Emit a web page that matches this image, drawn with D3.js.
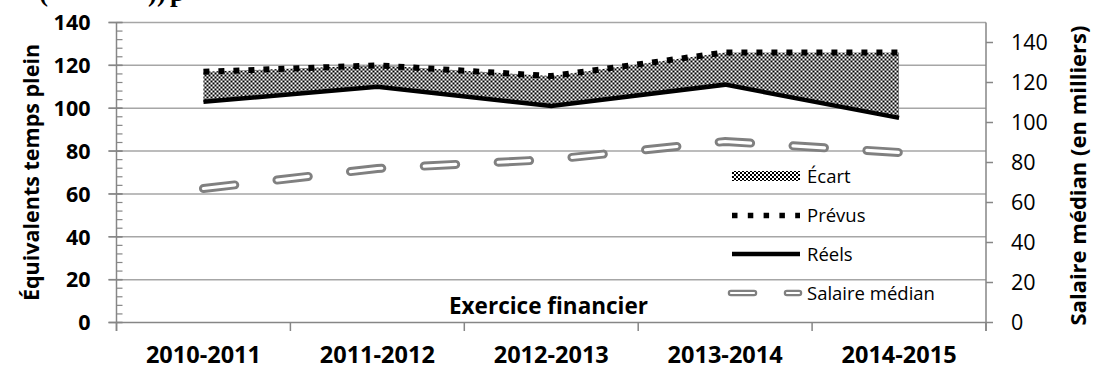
<!DOCTYPE html>
<html lang="fr">
<head>
    <meta charset="utf-8" />
    <title>ETP et salaire médian</title>
    <style>
        body { margin: 0; background: #fff; }
        svg { display: block; font-family: "Open Sans", "Liberation Sans", sans-serif; }
    </style>
</head>
<body>
<script src="https://d3js.org/d3.v7.min.js"></script>
<div id="chart"></div>
<script>
    // data
    const categories = ["2010-2011", "2011-2012", "2012-2013", "2013-2014", "2014-2015"];
    const prevus = [117, 120, 115, 126, 126];
    const reels = [103, 110, 101, 111, 95.5];
    const salaire = [67, 77, 81.5, 90.5, 85];   // right axis, in thousands
    const leftTicks = [0, 20, 40, 60, 80, 100, 120, 140];
    const rightTicks = [0, 20, 40, 60, 80, 100, 120, 140];

    const W = 1094, H = 368;
    const margin = {top: 22.5, right: 108, bottom: 45.5, left: 116.5};
    const width = W - margin.left - margin.right,
        height = H - margin.top - margin.bottom;

    const svg = d3.select("#chart").append("svg")
        .attr("width", W)
        .attr("height", H);

    // checkered fill for the gap
    const defs = svg.append("defs");
    const pat = defs.append("pattern")
        .attr("id", "checker")
        .attr("width", 4).attr("height", 4)
        .attr("patternUnits", "userSpaceOnUse");
    pat.append("rect").attr("width", 4).attr("height", 4).attr("fill", "#fff");
    pat.append("rect").attr("width", 2).attr("height", 2).attr("fill", "#000");
    pat.append("rect").attr("x", 2).attr("y", 2).attr("width", 2).attr("height", 2).attr("fill", "#000");

    // leftover of the document heading, cut off at the top like in the source
    const head = svg.append("g")
        .style("font-family", "'Liberation Serif', serif")
        .style("font-weight", "bold")
        .style("font-size", "27px");
    head.append("text").attr("x", 39).attr("y", 1).text("(");
    head.append("text").attr("x", 148).attr("y", 1).text("))");
    head.append("text").attr("x", 170).attr("y", 1).text("p");

    const g = svg.append("g")
        .attr("transform", `translate(${margin.left},${margin.top})`);

    const x = d3.scaleBand().domain(categories).range([0, width]);
    const y = d3.scaleLinear().domain([0, 140]).range([height, 0]);
    const y2 = d3.scaleLinear().domain([0, 150]).range([height, 0]);
    const cx = d => x(d) + x.bandwidth() / 2;

    const axisColor = "#868686", gridColor = "#a6a6a6";

    // gridlines
    g.selectAll(".grid")
        .data(leftTicks.filter(d => d > 0))
        .join("line")
        .attr("x1", -8).attr("x2", width)
        .attr("y1", d => y(d)).attr("y2", d => y(d))
        .attr("stroke", gridColor)
        .attr("stroke-width", 1.5);

    // left axis: line, major and minor ticks
    g.append("line")
        .attr("x1", 0).attr("x2", 0)
        .attr("y1", 0).attr("y2", height + 8.5)
        .attr("stroke", axisColor).attr("stroke-width", 1.5);
    g.selectAll(".minor")
        .data(d3.range(0, 141, 4))
        .join("line")
        .attr("x1", 0).attr("x2", 6)
        .attr("y1", d => y(d)).attr("y2", d => y(d))
        .attr("stroke", axisColor).attr("stroke-width", 1.2);
    g.selectAll(".major")
        .data(leftTicks)
        .join("line")
        .attr("x1", -8).attr("x2", 6)
        .attr("y1", d => y(d)).attr("y2", d => y(d))
        .attr("stroke", axisColor).attr("stroke-width", 1.5);
    g.selectAll(".ltick")
        .data(leftTicks)
        .join("text")
        .attr("x", -26)
        .attr("y", d => y(d))
        .attr("dy", "0.36em")
        .attr("text-anchor", "end")
        .style("font-weight", "bold")
        .style("font-size", "21.5px")
        .text(d => d);

    // bottom axis
    g.append("line")
        .attr("x1", -8).attr("x2", width)
        .attr("y1", height).attr("y2", height)
        .attr("stroke", axisColor).attr("stroke-width", 1.5);
    g.selectAll(".xtick")
        .data(categories.concat([null]))
        .join("line")
        .attr("x1", d => d === null ? width : x(d))
        .attr("x2", d => d === null ? width : x(d))
        .attr("y1", height).attr("y2", height + 8.5)
        .attr("stroke", axisColor).attr("stroke-width", 1.5);
    g.selectAll(".xlab")
        .data(categories)
        .join("text")
        .attr("x", d => cx(d))
        .attr("y", height + 40)
        .attr("text-anchor", "middle")
        .style("font-weight", "bold")
        .style("font-size", "23.5px")
        .text(d => d);

    // right axis
    g.append("line")
        .attr("x1", width).attr("x2", width)
        .attr("y1", 0).attr("y2", height + 8.5)
        .attr("stroke", axisColor).attr("stroke-width", 1.5);
    g.selectAll(".rmajor")
        .data(rightTicks)
        .join("line")
        .attr("x1", width).attr("x2", width + 7)
        .attr("y1", d => y2(d)).attr("y2", d => y2(d))
        .attr("stroke", axisColor).attr("stroke-width", 1.5);
    g.selectAll(".rtick")
        .data(rightTicks)
        .join("text")
        .attr("x", width + 25)
        .attr("y", d => y2(d))
        .attr("dy", "0.36em")
        .style("font-size", "21.5px")
        .text(d => d);

    // axis titles
    svg.append("text")
        .attr("transform", `translate(39,${margin.top + height / 2}) rotate(-90)`)
        .attr("text-anchor", "middle")
        .style("font-weight", "bold")
        .style("font-size", "21.5px")
        .text("Équivalents temps plein");
    svg.append("text")
        .attr("transform", `translate(1086,${margin.top + height / 2 + 3}) rotate(-90)`)
        .attr("text-anchor", "middle")
        .style("font-weight", "bold")
        .style("font-size", "22px")
        .text("Salaire médian (en milliers)");
    g.append("text")
        .attr("x", 432)
        .attr("y", height - 9)
        .attr("text-anchor", "middle")
        .style("font-weight", "bold")
        .style("font-size", "22.5px")
        .text("Exercice financier");

    // gap area between planned and actual
    const rows = categories.map((c, i) => ({c, p: prevus[i], r: reels[i], s: salaire[i]}));
    g.append("path")
        .datum(rows)
        .attr("d", d3.area().x(d => cx(d.c)).y0(d => y(d.r)).y1(d => y(d.p)))
        .attr("fill", "url(#checker)");

    // actual
    g.append("path")
        .datum(rows)
        .attr("d", d3.line().x(d => cx(d.c)).y(d => y(d.r)))
        .attr("fill", "none")
        .attr("stroke", "#000")
        .attr("stroke-width", 4.5);

    // planned (square dots)
    g.append("path")
        .datum(rows)
        .attr("d", d3.line().x(d => cx(d.c)).y(d => y(d.p)))
        .attr("fill", "none")
        .attr("stroke", "#000")
        .attr("stroke-width", 6)
        .attr("stroke-dasharray", "6,9");

    // median salary: long dashes drawn as a hollow grey outline
    const salLine = d3.line().x(d => cx(d.c)).y(d => y2(d.s));
    g.append("path")
        .datum(rows)
        .attr("d", salLine)
        .attr("fill", "none")
        .attr("stroke", "#808080")
        .attr("stroke-width", 9)
        .attr("stroke-linecap", "round")
        .attr("stroke-dasharray", "31.5,42.5");
    g.append("path")
        .datum(rows)
        .attr("d", salLine)
        .attr("fill", "none")
        .attr("stroke", "#fff")
        .attr("stroke-width", 3.2)
        .attr("stroke-linecap", "round")
        .attr("stroke-dasharray", "31.5,42.5");

    // legend
    const legendItems = ["Écart", "Prévus", "Réels", "Salaire médian"];
    const legY = [176, 215.5, 254, 293];
    const leg = svg.append("g");
    leg.append("rect")
        .attr("x", 732).attr("y", legY[0] - 5)
        .attr("width", 68).attr("height", 10)
        .attr("fill", "url(#checker)");
    leg.append("line")
        .attr("x1", 732).attr("x2", 800)
        .attr("y1", legY[1]).attr("y2", legY[1])
        .attr("stroke", "#000").attr("stroke-width", 5.5)
        .attr("stroke-dasharray", "5.5,10.3");
    leg.append("line")
        .attr("x1", 732).attr("x2", 800)
        .attr("y1", legY[2]).attr("y2", legY[2])
        .attr("stroke", "#000").attr("stroke-width", 4.5);
    leg.append("line")
        .attr("x1", 731).attr("x2", 799)
        .attr("y1", legY[3]).attr("y2", legY[3])
        .attr("stroke", "#808080").attr("stroke-width", 6.5)
        .attr("stroke-linecap", "round")
        .attr("stroke-dasharray", "23,33");
    leg.append("line")
        .attr("x1", 731).attr("x2", 799)
        .attr("y1", legY[3]).attr("y2", legY[3])
        .attr("stroke", "#fff").attr("stroke-width", 2.2)
        .attr("stroke-linecap", "round")
        .attr("stroke-dasharray", "23,33");
    leg.selectAll(".ltxt")
        .data(legendItems)
        .join("text")
        .attr("x", 807)
        .attr("y", (d, i) => legY[i])
        .attr("dy", "0.36em")
        .style("font-size", "18.5px")
        .text(d => d);
</script>
</body>
</html>
